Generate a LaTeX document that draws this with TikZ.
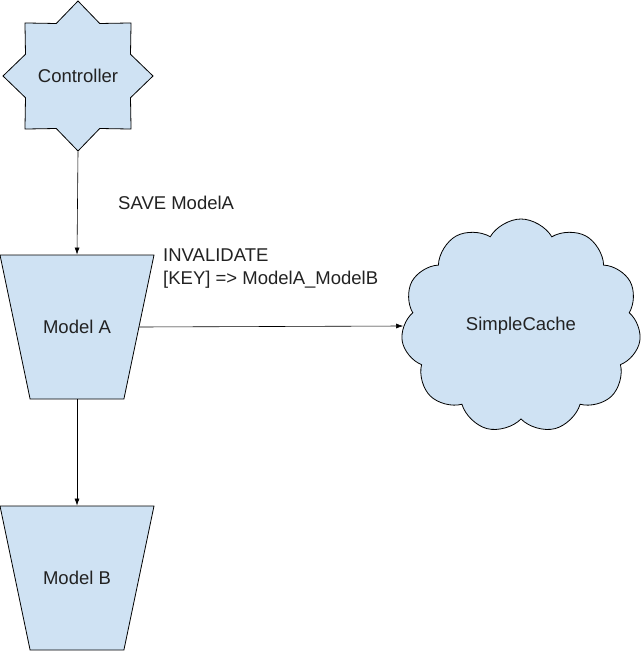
\documentclass[tikz,border=0pt]{standalone}
\usepackage{fontspec}
\setmainfont{Liberation Sans}
\usepackage{tikz}
\usetikzlibrary{arrows.meta,positioning,shapes.geometric,shapes.symbols}
\definecolor{shapeFill}{HTML}{CFE2F3}
\definecolor{inkGray}{HTML}{222222}

\begin{document}
\begin{tikzpicture}[x=1pt,y=-1pt,
    every node/.style={font=\fontsize{18.5}{23}\selectfont,text=inkGray},
    starbox/.style={star,star points=8,star point ratio=1.32,
                    draw=black,fill=shapeFill,line width=0.8pt,
                    minimum size=150pt,inner sep=0pt},
    modelbox/.style={trapezium,trapezium stretches body=true,
                     trapezium left angle=78,trapezium right angle=78,
                     shape border rotate=180,
                     draw=black,fill=shapeFill,line width=0.8pt,
                     minimum width=154pt,minimum height=144pt,
                     inner xsep=0pt,inner ysep=64pt},
    cloudbox/.style={cloud,cloud puffs=11,cloud puff arc=120,aspect=1.1,
                     draw=black,fill=shapeFill,line width=0.8pt,
                     minimum width=240pt,minimum height=214pt,inner sep=0pt},
    lbl/.style={align=left,anchor=west,inner sep=0pt},
    flow/.style={-{Latex[length=7pt,width=5pt]},line width=0.6pt}
  ]
  \useasboundingbox (0,0) rectangle (641,655);
  % Shapes
  \node[starbox]  (ctrl)   at ( 78, 76) {Controller};
  \node[modelbox] (modelA) at ( 77,327) {Model A};
  \node[modelbox] (modelB) at ( 77,578) {Model B};
  \node[cloudbox] (cache)  at (521,326) {SimpleCache};
  % Labels
  \node[lbl] (savelbl) at (118,203) {SAVE ModelA};
  \node[lbl] (invlbl)  at (163,269) {INVALIDATE\\{[KEY]} => ModelA\_ModelB};
  % Connectors
  \draw[flow] (ctrl.south)   -- (modelA.north);
  \draw[flow] (modelA.east)  -- (cache.west);
  \draw[flow] (modelA.south) -- (modelB.north);
\end{tikzpicture}
\end{document}
